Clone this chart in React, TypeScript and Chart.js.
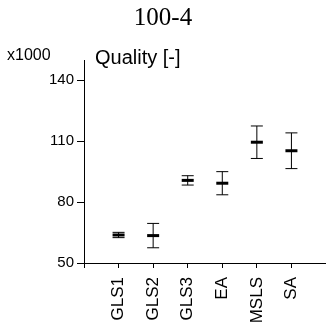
import React, { useEffect, useRef } from 'react';
import { Chart, registerables } from 'chart.js';

Chart.register(...registerables);

const categories = ['GLS1', 'GLS2', 'GLS3', 'EA', 'MSLS', 'SA'];
const means = [63.8, 63.5, 90.7, 89.3, 109.5, 105.3];
const errors = [1.3, 6.0, 2.3, 5.7, 8.0, 8.8];
const yTicks = [50, 80, 110, 140];
const yMin = 50;
const yMax = 150;
const chartTitle = '100-4';
const yAxisTitle = 'Quality [-]';
const yMultiplier = 'x1000';

const xTickValues = [-1, ...categories.map((_, i) => i)];

const textPlugin = {
  id: 'axisTexts',
  afterDraw(chart: any) {
    const ctx = chart.ctx;
    ctx.save();
    ctx.fillStyle = '#000';
    ctx.textAlign = 'left';
    ctx.textBaseline = 'alphabetic';
    ctx.font = '16px "Liberation Sans", Arial, sans-serif';
    ctx.fillText(yMultiplier, 7, 60);
    ctx.font = '20px "Liberation Sans", Arial, sans-serif';
    ctx.fillText(yAxisTitle, chart.chartArea.left + 11, 64);
    ctx.restore();
  },
};

export default function App() {
  const canvasRef = useRef<HTMLCanvasElement | null>(null);

  useEffect(() => {
    if (!canvasRef.current) return;
    const whiskerSets = categories.map((_, i) => ({
      type: 'scatter' as const,
      data: [
        { x: i, y: means[i] - errors[i] },
        { x: i, y: means[i] + errors[i] },
      ],
      showLine: true,
      borderColor: '#000',
      borderWidth: 1,
      pointStyle: 'line',
      pointRadius: 6,
      pointBorderWidth: 1,
      pointBorderColor: '#000',
      pointBackgroundColor: '#000',
    }));
    const meanSet = {
      type: 'scatter' as const,
      data: means.map((m, i) => ({ x: i, y: m })),
      showLine: false,
      borderColor: '#000',
      pointStyle: 'line',
      pointRadius: 6,
      pointBorderWidth: 3,
      pointBorderColor: '#000',
      pointBackgroundColor: '#000',
    };

    const chart = new Chart(canvasRef.current, {
      type: 'scatter',
      data: { datasets: [...whiskerSets, meanSet] as any },
      options: {
        animation: false,
        responsive: false,
        devicePixelRatio: 1,
        layout: { padding: 0, autoPadding: false },
        plugins: {
          legend: { display: false },
          tooltip: { enabled: false },
          title: {
            display: true,
            text: chartTitle,
            color: '#000',
            font: { family: '"Liberation Serif", "Times New Roman", serif', size: 25, weight: 'normal' },
            padding: { top: 3.5, bottom: 26.5 },
          },
        },
        scales: {
          x: {
            type: 'linear',
            min: -1,
            max: 6,
            afterBuildTicks: (s: any) => {
              s.ticks = xTickValues.map((v) => ({ value: v }));
            },
            afterFit: (s: any) => {
              s.height = 69;
              s.paddingLeft = 0;
              s.paddingRight = 0;
            },
            grid: { drawOnChartArea: false, drawTicks: true, tickLength: 5, tickColor: '#000', tickWidth: 1 },
            border: { display: true, color: '#000', width: 1 },
            ticks: {
              autoSkip: false,
              minRotation: 90,
              maxRotation: 90,
              padding: 9,
              color: '#000',
              font: { family: '"Liberation Sans", Arial, sans-serif', size: 17 },
              callback: (v: any) => categories[v] ?? '',
            },
          },
          y: {
            type: 'linear',
            min: yMin,
            max: yMax,
            afterBuildTicks: (s: any) => {
              s.ticks = yTicks.map((v) => ({ value: v }));
            },
            afterFit: (s: any) => {
              s.width = 84;
              s.paddingTop = 0;
              s.paddingBottom = 0;
            },
            grid: { drawOnChartArea: false, drawTicks: true, tickLength: 7, tickColor: '#000', tickWidth: 1 },
            border: { display: true, color: '#000', width: 1 },
            ticks: {
              padding: 3,
              color: '#000',
              font: { family: '"Liberation Sans", Arial, sans-serif', size: 15 },
            },
          },
        },
      } as any,
      plugins: [textPlugin],
    });
    return () => chart.destroy();
  }, []);

  return (
    <div style={{ position: 'absolute', left: 0, top: 0, width: 326, height: 332 }}>
      <canvas ref={canvasRef} width={326} height={332} style={{ display: 'block' }} />
    </div>
  );
}
